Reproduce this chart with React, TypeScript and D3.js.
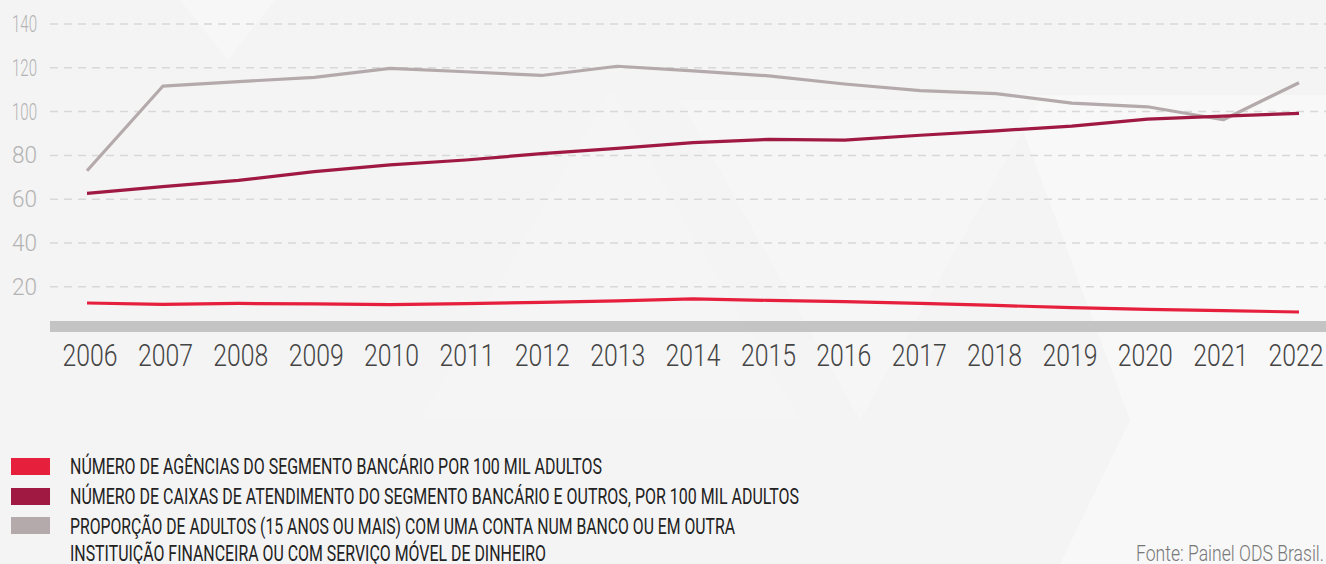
import React, { useEffect, useRef } from "react";
import * as d3 from "d3";

const years = ["2006","2007","2008","2009","2010","2011","2012","2013","2014","2015","2016","2017","2018","2019","2020","2021","2022"];
const agencias = [12.6, 12.0, 12.4, 12.2, 11.9, 12.3, 12.9, 13.6, 14.5, 13.8, 13.2, 12.4, 11.5, 10.5, 9.7, 9.1, 8.5];
const caixas = [62.7, 65.7, 68.6, 72.6, 75.7, 77.9, 80.8, 83.2, 85.8, 87.3, 87.0, 89.2, 91.2, 93.4, 96.6, 97.9, 99.2];
const proporcao = [73.0, 111.6, 113.7, 115.6, 119.7, 118.2, 116.5, 120.7, 118.6, 116.3, 112.6, 109.6, 108.2, 103.9, 102.2, 96.3, 113.2];
const yTicks = [20, 40, 60, 80, 100, 120, 140];
const legendLabels = [
  ["NÚMERO DE AGÊNCIAS DO SEGMENTO BANCÁRIO POR 100 MIL ADULTOS"],
  ["NÚMERO DE CAIXAS DE ATENDIMENTO DO SEGMENTO BANCÁRIO E OUTROS, POR 100 MIL ADULTOS"],
  ["PROPORÇÃO DE ADULTOS (15 ANOS OU MAIS) COM UMA CONTA NUM BANCO OU EM OUTRA", "INSTITUIÇÃO FINANCEIRA OU COM SERVIÇO MÓVEL DE DINHEIRO"],
];
const sourceText = "Fonte: Painel ODS Brasil.";

const W = 1326;
const H = 564;
const colors = ["#e61f3d", "#a01942", "#b5aaab"];
const FONT = "Roboto, 'Noto Sans', sans-serif";

export default function App() {
  const ref = useRef<SVGSVGElement>(null);

  useEffect(() => {
    document.body.style.margin = "0";
    const svg = d3.select(ref.current);
    svg.selectAll("*").remove();

    // background
    svg.append("rect").attr("width", W).attr("height", H).attr("fill", "#f4f4f4");
    const bg = svg.append("g");
    bg.append("polygon").attr("points", "180,0 275,0 228,60").attr("fill", "#f7f7f7");
    bg.append("polygon").attr("points", "420,420 610,90 800,420").attr("fill", "#f5f5f5");
    bg.append("polygon").attr("points", "1010,95 1326,95 1326,564 1060,564 1130,420").attr("fill", "#f8f8f8");
    bg.append("polygon").attr("points", "680,100 1040,100 860,420").attr("fill", "#f6f6f6");

    const x = d3.scalePoint<string>().domain(years).range([87, 1299]);
    const xLabel = d3.scalePoint<string>().domain(years).range([90, 1296]);
    const y = d3.scaleLinear().domain([0, 140]).range([330.6, 24]);

    // gridlines
    svg.append("g").selectAll("line").data(yTicks).join("line")
      .attr("x1", 50).attr("x2", W)
      .attr("y1", d => y(d)).attr("y2", d => y(d))
      .attr("stroke", "#d8d8d8").attr("stroke-width", 1.5)
      .attr("stroke-dasharray", "8,6");

    // y labels
    svg.append("g").selectAll("text").data(yTicks).join("text")
      .attr("x", 37).attr("y", d => y(d) + 8)
      .attr("text-anchor", "end")
      .attr("font-family", FONT).attr("font-weight", 300)
      .attr("font-size", 24).attr("fill", "#b3b3b3")
      .attr("textLength", 25).attr("lengthAdjust", "spacingAndGlyphs")
      .text(d => String(d));

    // base bar
    svg.append("rect").attr("x", 50).attr("y", 321).attr("width", W - 50).attr("height", 11).attr("fill", "#c4c4c4");

    // x labels
    svg.append("g").selectAll("text").data(years).join("text")
      .attr("x", d => (xLabel(d) as number)).attr("y", 366)
      .attr("text-anchor", "middle")
      .attr("font-family", FONT).attr("font-weight", 300)
      .attr("font-size", 31).attr("fill", "#444")
      .attr("textLength", 55).attr("lengthAdjust", "spacingAndGlyphs")
      .text(d => d);

    // lines
    const series = [proporcao, caixas, agencias];
    const seriesColors = [colors[2], colors[1], colors[0]];
    series.forEach((vals, i) => {
      const line = d3.line<number>()
        .x((_, j) => x(years[j]) as number)
        .y(v => y(v))
        .curve(d3.curveLinear);
      svg.append("path").attr("d", line(vals) as string)
        .attr("fill", "none").attr("stroke", seriesColors[i])
        .attr("stroke-width", 3.2).attr("stroke-linejoin", "round");
    });

    // legend
    const rectYs = [458, 488, 517];
    const textBase = [[474], [504], [533.5, 561]];
    const textWidths = [[532], [729], [665, 476]];
    legendLabels.forEach((lines, i) => {
      svg.append("rect").attr("x", 11).attr("y", rectYs[i]).attr("width", 39).attr("height", 17).attr("fill", colors[i]);
      lines.forEach((t, k) => {
        svg.append("text").attr("x", 70).attr("y", textBase[i][k])
          .attr("font-family", FONT).attr("font-size", 22).attr("fill", "#222")
          .attr("textLength", textWidths[i][k]).attr("lengthAdjust", "spacingAndGlyphs")
          .text(t);
      });
    });

    svg.append("text").attr("x", 1324).attr("y", 561)
      .attr("text-anchor", "end")
      .attr("font-family", FONT).attr("font-weight", 300)
      .attr("font-size", 22).attr("fill", "#777")
      .attr("textLength", 188).attr("lengthAdjust", "spacingAndGlyphs")
      .text(sourceText);
  }, []);

  return <svg ref={ref} width={W} height={H} style={{ display: "block", position: "absolute", left: 0, top: 0 }} />;
}
